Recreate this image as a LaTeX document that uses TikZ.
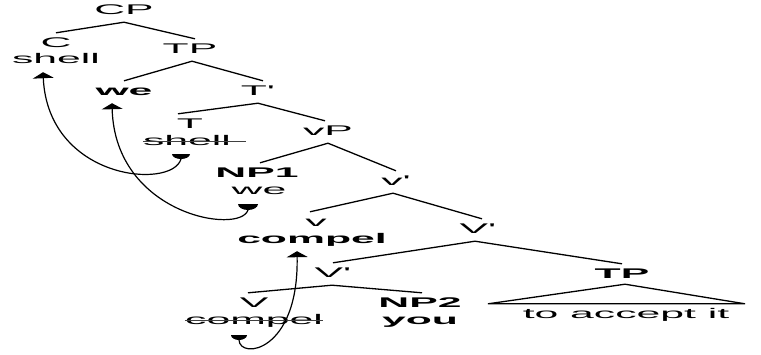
\documentclass[tikz,border=0pt]{standalone}
\usepackage{fontspec}
\newfontfamily\wf[FakeStretch=3.05]{Liberation Sans}
\usetikzlibrary{arrows.meta}
\begin{document}
\begin{tikzpicture}[x=1pt,y=-1pt,
  lab/.style={font=\wf\fontsize{14}{14}\selectfont, inner sep=0pt, anchor=base,
              text height=10pt, text depth=3pt},
  blab/.style={lab, font=\wf\bfseries\fontsize{14}{14}\selectfont},
  br/.style={line width=1.3pt},
  strike/.style={line width=0.9pt, black!75},
  mv/.style={line width=1.2pt, -{Triangle[width=21pt,length=6pt]}},
  dot/.style={fill=black}]
\useasboundingbox (0,0) rectangle (761,354);
% nodes
\node[lab]  (CP)        at (124,14)  {CP};
\node[lab]  (C)         at (56,47)   {C};
\node[lab]  (shellone)  at (56,63)   {shell};
\node[lab]  (TPone)     at (190,53)  {TP};
\node[blab] (weone)     at (124,95)  {we};
\node[lab]  (Tbar)      at (258,95)  {T'};
\node[lab]  (T)         at (190,128) {T};
\node[lab]  (shelltwo)  at (187,145) {shell};
\node[lab]  (vP)        at (328,135) {vP};
\node[blab] (NPone)     at (257,177) {NP1};
\node[lab]  (wetwo)     at (259,194) {we};
\node[lab]  (vbar)      at (396,185) {v'};
\node[lab]  (v)         at (316,226) {v};
\node[blab] (compelone) at (312,243) {compel};
\node[lab]  (Vbarone)   at (478,233) {V'};
\node[lab]  (Vbartwo)   at (333,277) {V'};
\node[blab] (TPtwo)     at (622,278) {TP};
\node[lab]  (V)         at (254,307) {V};
\node[blab] (NPtwo)     at (420,307) {NP2};
\node[lab]  (compeltwo) at (254,324) {compel};
\node[blab] (you)       at (420,324) {you};
\node[lab]  (acc)       at (626,318) {to accept it};
% branches
\draw[br] ([yshift=-5pt]CP.south) -- ([yshift=4pt]C.north);
\draw[br] ([yshift=-5pt]CP.south) -- ([xshift=5pt,yshift=4pt]TPone.north);
\draw[br] ([xshift=2pt,yshift=-5pt]TPone.south) -- ([yshift=4pt]weone.north);
\draw[br] ([xshift=2pt,yshift=-5pt]TPone.south) -- ([xshift=5pt,yshift=4pt]Tbar.north);
\draw[br] ([yshift=-5pt]Tbar.south) -- ([xshift=-12pt,yshift=4pt]T.north);
\draw[br] ([yshift=-5pt]Tbar.south) -- ([xshift=-3pt,yshift=4pt]vP.north);
\draw[br] ([yshift=-5pt]vP.south) -- ([xshift=3pt,yshift=4pt]NPone.north);
\draw[br] ([yshift=-5pt]vP.south) -- ([yshift=4pt]vbar.north);
\draw[br] ([xshift=-3pt,yshift=-5pt]vbar.south) -- ([xshift=-6pt,yshift=4pt]v.north);
\draw[br] ([xshift=-3pt,yshift=-5pt]vbar.south) -- ([xshift=4pt,yshift=4pt]Vbarone.north);
\draw[br] ([xshift=-3pt,yshift=-5pt]Vbarone.south) -- ([yshift=4pt]Vbartwo.north);
\draw[br] ([xshift=-3pt,yshift=-5pt]Vbarone.south) -- ([yshift=4pt]TPtwo.north);
\draw[br] ([xshift=-1pt,yshift=-5pt]Vbartwo.south) -- ([xshift=-6pt,yshift=4pt]V.north);
\draw[br] ([xshift=-1pt,yshift=-5pt]Vbartwo.south) -- ([xshift=2pt,yshift=4pt]NPtwo.north);
% triangle
\draw[br] ([xshift=3pt,yshift=-3pt]TPtwo.south)
  -- ([xshift=-138pt,yshift=4pt]acc.north)
  -- ([xshift=119pt,yshift=4pt]acc.north) -- cycle;
% strikes
\draw[strike] ([yshift=3.4pt]shelltwo.base west) -- ([xshift=15pt,yshift=3.4pt]shelltwo.base east);
\draw[strike] ([yshift=3.4pt]compeltwo.base west) -- ([yshift=3.4pt]compeltwo.base east);
% movement arrows
\coordinate (b1) at (181,159);
\coordinate (b2) at (248,210);
\coordinate (b3) at (239,340);
\fill[dot] ([xshift=-9pt,yshift=5pt]b1) arc[start angle=180,end angle=360,x radius=9pt,y radius=5pt] -- cycle;
\fill[dot] ([xshift=-10pt,yshift=6pt]b2) arc[start angle=180,end angle=360,x radius=10pt,y radius=6pt] -- cycle;
\fill[dot] ([xshift=-8pt,yshift=5pt]b3) arc[start angle=180,end angle=360,x radius=8pt,y radius=5pt] -- cycle;
\draw[mv] (b1) .. controls (172,190) and (48,180) .. ([xshift=-13pt,yshift=-6pt]shellone.south);
\draw[mv] (b2) .. controls (240,235) and (115,215) .. ([xshift=-12pt,yshift=-5pt]weone.south);
\draw[mv] (b3) .. controls (240,360) and (299,352) .. ([xshift=-15pt,yshift=-5pt]compelone.south);
\end{tikzpicture}
\end{document}
